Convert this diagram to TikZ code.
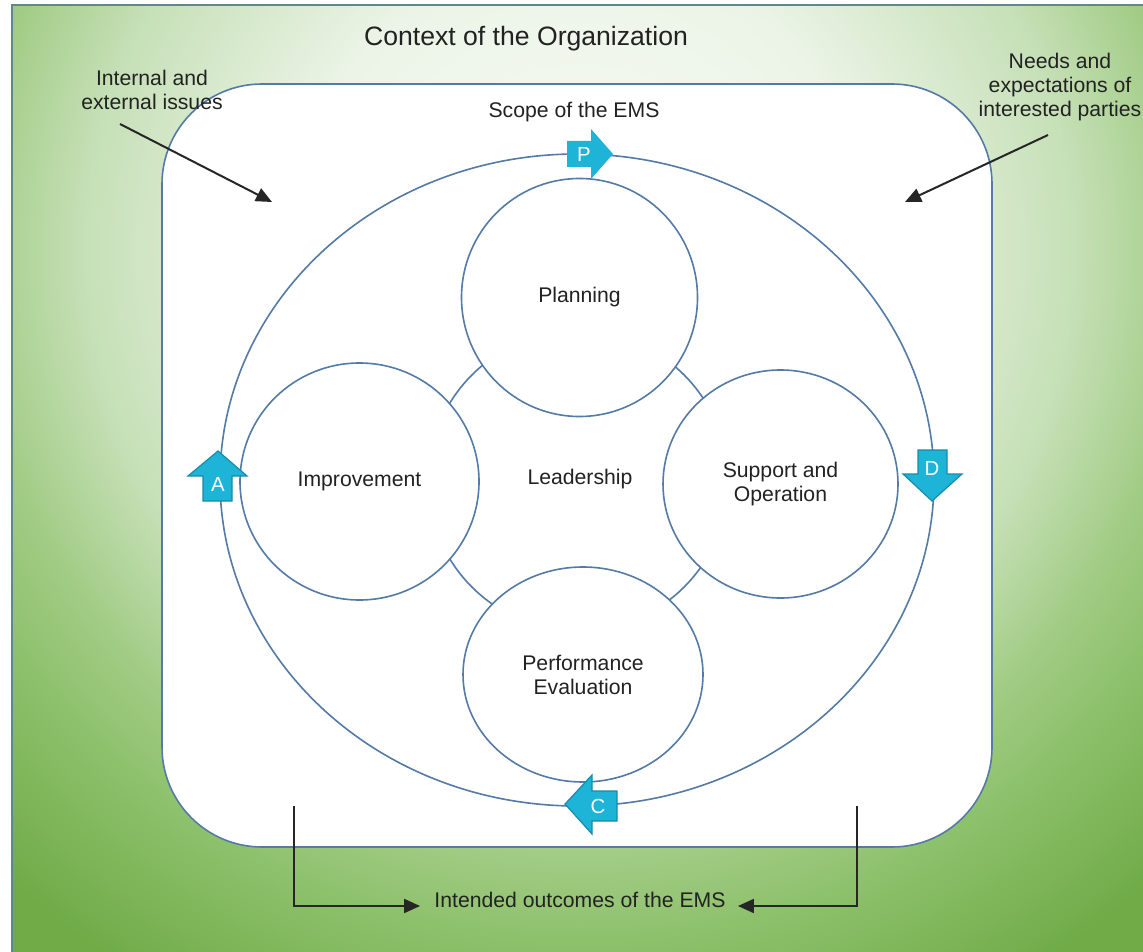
\documentclass[tikz,border=0pt]{standalone}
\usepackage{fontspec}
\setmainfont{Liberation Sans}
\usetikzlibrary{shapes.geometric,arrows.meta}
\definecolor{emsline}{RGB}{84,122,166}
\definecolor{pdcafill}{RGB}{29,180,216}
\definecolor{pdcaedge}{RGB}{22,140,170}
\definecolor{textgray}{RGB}{34,34,34}
\definecolor{frameline}{RGB}{96,136,136}
\definecolor{bgA}{RGB}{248,251,246}
\definecolor{bgB}{RGB}{236,244,231}
\definecolor{bgC}{RGB}{198,224,183}
\definecolor{bgD}{RGB}{160,203,131}
\definecolor{bgE}{RGB}{140,192,106}
\definecolor{bgF}{RGB}{112,171,72}
\pgfdeclareradialshading{contextglow}{\pgfpoint{0bp}{0bp}}{color(0bp)=(bgA); color(8.5bp)=(bgB); color(14.5bp)=(bgC); color(18bp)=(bgD); color(20.5bp)=(bgE); color(25bp)=(bgF); color(50bp)=(bgF)}
\tikzset{
  phase/.style={ellipse, draw=emsline, fill=white, line width=0.8pt, inner sep=0pt, align=center},
  pdca/.style={fill=pdcafill, draw=pdcaedge, line width=0.6pt, line join=miter},
  letter/.style={text=white, font=\fontsize{10.2}{12}\selectfont, inner sep=0pt},
  pointer/.style={-{Triangle[length=8pt,width=7pt]}, line width=1pt, black!85},
  caption/.style={align=center, inner sep=0pt}
}

\begin{document}
\begin{tikzpicture}[x=0.5pt, y=-0.5pt,
  every node/.append style={font=\fontsize{10.6}{12}\selectfont, text=textgray}]
  \useasboundingbox (0,0) rectangle (1143,951);
  % background
  \fill[bgF] (12,5) rectangle (1150,960);
  \begin{scope}
    \clip (12,5) rectangle (1150,960);
    \shade[shading=contextglow] (580,250) ellipse (852 and 850);
  \end{scope}
  \draw[frameline, line width=0.8pt] (12,5) rectangle (1150,960);

  % organisation box and scope
  \draw[emsline, line width=0.8pt, fill=white, rounded corners=50pt] (162,84) rectangle (992,847);
  \draw[emsline, line width=0.8pt] (577,480) ellipse (357 and 326);

  \node[circle, draw=emsline, fill=white, line width=0.8pt, minimum size=150pt, inner sep=0pt] (leadership) at (578,481) {};
  \node[caption] (leadlbl) at (580,479) {Leadership};
  \node[phase, minimum width=118pt, minimum height=119pt] (planning) at (579.5,297.5) {Planning};
  \node[phase, minimum width=119.5pt, minimum height=118.5pt] (improve) at (359.5,481.5) {Improvement};
  \node[phase, minimum width=117.5pt, minimum height=114pt] (support) at (780.5,484) {Support and\\Operation};
  \node[phase, minimum width=120pt, minimum height=107.5pt] (perform) at (583,674.5) {Performance\\Evaluation};

  % PDCA arrows
  \fill[pdcafill] (567,141) -- (591,141) -- (591,129) -- (613,154) -- (591,179) -- (591,167) -- (567,167) -- cycle;
  \node[letter] (plan) at (584,154) {P};
  \draw[pdca] (918,450) -- (947,450) -- (947,474) -- (962,474) -- (932,501) -- (903,474) -- (918,474) -- cycle;
  \node[letter] (do) at (932,468) {D};
  \draw[pdca] (565,804) -- (592,775) -- (592,791) -- (617,791) -- (617,821) -- (592,821) -- (592,834) -- cycle;
  \node[letter] (check) at (598,806) {C};
  \draw[pdca] (218,451) -- (247,476) -- (232,476) -- (232,501) -- (203,501) -- (203,476) -- (188,476) -- cycle;
  \node[letter] (act) at (218,484) {A};

  % labels
  \node[caption, font=\fontsize{13.3}{16}\selectfont] (title) at (526,39) {Context of the Organization};
  \node[caption] (issues) at (152,90) {Internal and\\external issues};
  \node[caption] (needs) at (1060,87) {Needs and\\expectations of\\interested parties};
  \node[caption] (scopelbl) at (574,112) {Scope of the EMS};
  \node[caption] (outcomes) at (580,900) {Intended outcomes of the EMS};

  \coordinate (issuesTail) at (120,124);
  \coordinate (issuesTip) at (272,202);
  \coordinate (needsTail) at (1048,135);
  \coordinate (needsTip) at (905,202);
  \coordinate (outLeft) at (294,806);
  \coordinate (outRight) at (857,806);
  \draw[pointer] (issuesTail) -- (issuesTip);
  \draw[pointer] (needsTail) -- (needsTip);
  \draw[pointer] (outLeft) |- ([shift={(-7pt,-3pt)}]outcomes.west);
  \draw[pointer] (outRight) |- ([shift={(6pt,-3pt)}]outcomes.east);
\end{tikzpicture}
\end{document}
